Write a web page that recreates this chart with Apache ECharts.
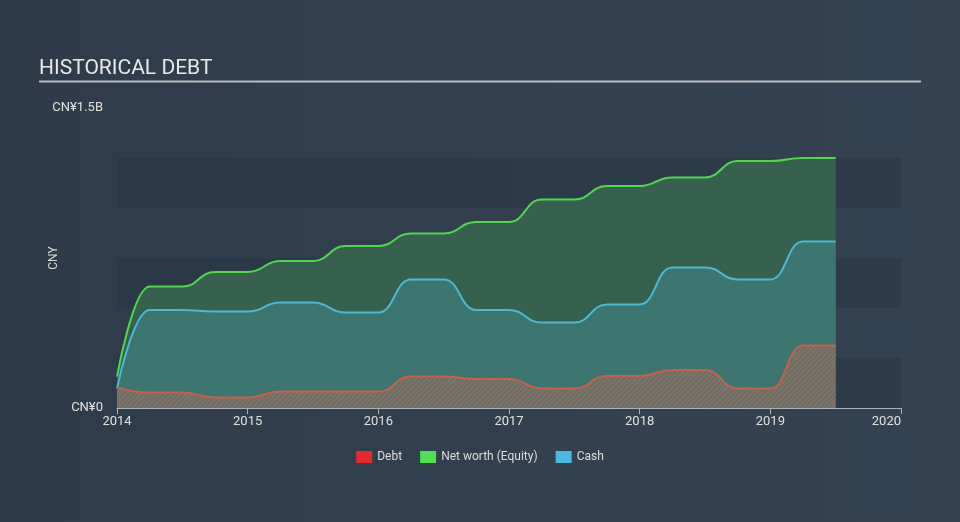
<!DOCTYPE html>
<html>
<head>
<meta charset="utf-8">
<script src="https://cdn.jsdelivr.net/npm/echarts@6/dist/echarts.min.js"></script>
<style>
html,body{margin:0;padding:0;background:#334150;}
#c{width:960px;height:522px;}
</style>
</head>
<body>
<div id="c"></div>
<script>
// Data (years as decimal, values in CNY billions)
var dates = [2014.0, 2014.25, 2014.5, 2014.75, 2015.0, 2015.25, 2015.5, 2015.75, 2016.0, 2016.25, 2016.5, 2016.75, 2017.0, 2017.25, 2017.5, 2017.75, 2018.0, 2018.25, 2018.5, 2018.75, 2019.0, 2019.25, 2019.5];
var debt = [0.103, 0.078, 0.078, 0.053, 0.053, 0.082, 0.082, 0.082, 0.082, 0.157, 0.157, 0.145, 0.145, 0.098, 0.098, 0.160, 0.160, 0.190, 0.190, 0.098, 0.098, 0.312, 0.312];
var equity = [0.157, 0.607, 0.607, 0.680, 0.680, 0.735, 0.735, 0.810, 0.810, 0.873, 0.873, 0.930, 0.930, 1.043, 1.043, 1.110, 1.110, 1.153, 1.153, 1.235, 1.235, 1.250, 1.250];
var cash = [0.098, 0.490, 0.490, 0.482, 0.482, 0.527, 0.527, 0.477, 0.477, 0.643, 0.643, 0.490, 0.490, 0.427, 0.427, 0.518, 0.518, 0.703, 0.703, 0.643, 0.643, 0.832, 0.832];
var xTicks = [2014, 2015, 2016, 2017, 2018, 2019, 2020];
var seriesNames = ['Debt', 'Net worth (Equity)', 'Cash'];

function pairs(vals){ return dates.map(function(d,i){ return [d, vals[i]]; }); }

// hatch pattern for debt area
var pc = document.createElement('canvas');
pc.width = 5; pc.height = 5;
var g = pc.getContext('2d');
g.fillStyle = 'rgba(120,118,110,0.55)';
g.fillRect(0,0,5,5);
g.strokeStyle = 'rgba(205,95,75,0.75)';
g.lineWidth = 1.2;
g.beginPath();
g.moveTo(-1,6); g.lineTo(6,-1);
g.moveTo(-1,1); g.lineTo(1,-1);
g.moveTo(4,6); g.lineTo(6,4);
g.stroke();

var chart = echarts.init(document.getElementById('c'), null, {renderer:'canvas'});
chart.setOption({
  backgroundColor: {
    type:'linear', x:0, y:0, x2:1, y2:0,
    colorStops:[{offset:0,color:'#2f3b4a'},{offset:1,color:'#344353'}]
  },
  animation: false,
  textStyle: {fontFamily: 'Roboto, sans-serif'},
  title: {
    text: 'HISTORICAL DEBT', left: 34, top: 53,
    textStyle: {color:'#e8e8e8', fontSize: 21, fontWeight: 'normal', fontFamily:'Roboto, sans-serif'}
  },
  graphic: [
    {type:'line', shape:{x1:39, y1:81.5, x2:921, y2:81.5}, style:{stroke:'#b9bdc3', lineWidth:2}},
    {type:'text', x:54, y:258, rotation: Math.PI/2, style:{text:'CNY', fill:'#d8d8d8', font:'12px Roboto, sans-serif', textAlign:'center', textVerticalAlign:'middle'}}
  ],
  legend: {
    bottom: 54, left: 'center',
    itemWidth: 16, itemHeight: 12, itemGap: 18,
    icon: 'rect',
    data: seriesNames,
    textStyle: {color:'#dcdcdc', fontSize: 12}
  },
  grid: {left: 117, right: 59, top: 108, bottom: 114},
  xAxis: {
    type:'value', min: xTicks[0], max: xTicks[xTicks.length-1], interval: 1,
    axisLine: {lineStyle:{color:'#aeb4bc', width: 1}},
    axisTick: {show:true, length: 6, lineStyle:{color:'#aeb4bc'}},
    axisLabel: {color:'#e0e0e0', fontSize: 13, margin: 7, alignMaxLabel:'right', formatter: function(v){ return String(v); }},
    splitLine: {show:false}
  },
  yAxis: {
    type:'value', min: 0, max: 1.5, interval: 0.25,
    axisLine: {show:false}, axisTick: {show:false},
    axisLabel: {color:'#e0e0e0', fontSize: 13, margin: 14,
      formatter: function(v){ if (v === 0) return 'CN¥0'; if (Math.abs(v-1.5) < 1e-9) return 'CN¥1.5B'; return ''; }},
    splitLine: {show:false},
    splitArea: {show:true, areaStyle:{color:['rgba(38,49,62,0.38)','rgba(0,0,0,0)']}}
  },
  series: [
    {
      name: seriesNames[1], type:'line', data: pairs(equity), smooth: 0.5, smoothMonotone:'x',
      symbol:'none', z: 2,
      lineStyle:{color:'#4cd94c', width:2},
      itemStyle:{color:'#4fe34f'},
      areaStyle:{color:'#37604e', opacity:1}
    },
    {
      name: seriesNames[2], type:'line', data: pairs(cash), smooth: 0.5, smoothMonotone:'x',
      symbol:'none', z: 3,
      lineStyle:{color:'#4bb9d6', width:2},
      itemStyle:{color:'#4ab9de'},
      areaStyle:{color:'#3d7671', opacity:1}
    },
    {
      name: seriesNames[0], type:'line', data: pairs(debt), smooth: 0.5, smoothMonotone:'x',
      symbol:'none', z: 4,
      lineStyle:{color:'#c8604a', width:2},
      itemStyle:{color:'#e8282b'},
      areaStyle:{color:{image: pc, repeat:'repeat'}, opacity:1}
    }
  ]
});
</script>
</body>
</html>
